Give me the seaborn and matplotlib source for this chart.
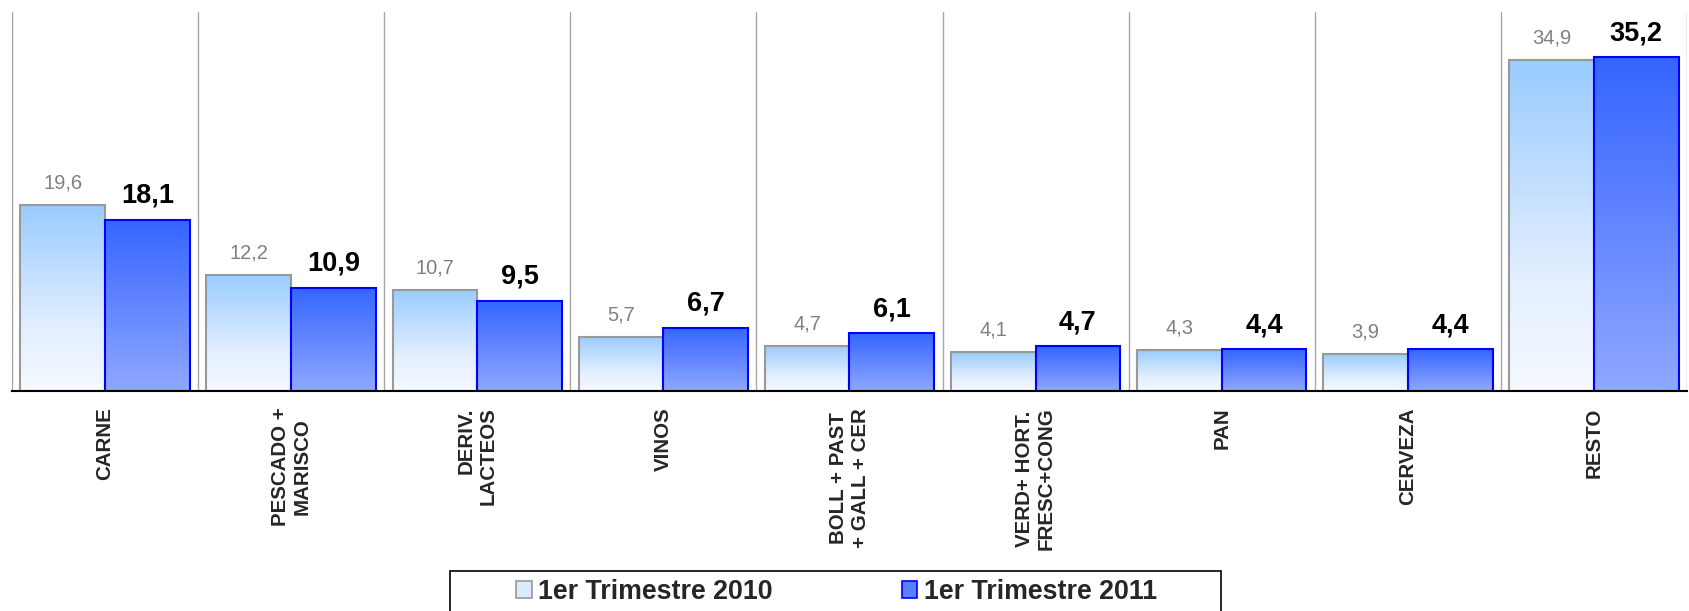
import numpy as np
import pandas as pd
import matplotlib
matplotlib.use("Agg")
import matplotlib.pyplot as plt
from matplotlib.colors import LinearSegmentedColormap
from matplotlib.patches import Patch, Rectangle
import seaborn as sns

# ---- data ----
categories = ["CARNE", "PESCADO +\nMARISCO", "DERIV.\nLACTEOS", "VINOS",
              "BOLL + PAST\n+ GALL + CER", "VERD+ HORT.\nFRESC+CONG",
              "PAN", "CERVEZA", "RESTO"]
series_names = ["1er Trimestre 2010", "1er Trimestre 2011"]
values_2010 = [19.6, 12.2, 10.7, 5.7, 4.7, 4.1, 4.3, 3.9, 34.9]
values_2011 = [18.1, 10.9, 9.5, 6.7, 6.1, 4.7, 4.4, 4.4, 35.2]

df = pd.DataFrame({
    "cat": categories * 2,
    "val": values_2010 + values_2011,
    "serie": [series_names[0]] * len(categories) + [series_names[1]] * len(categories),
})

sns.set_style("white")
plt.rcParams["font.family"] = ["Liberation Sans", "DejaVu Sans"]

W, H = 1690, 611
fig = plt.figure(figsize=(W / 100, H / 100), dpi=100)
ax = fig.add_axes([12 / W, 1 - 391 / H, 1675 / W, 379 / H])

sns.barplot(data=df, x="cat", y="val", hue="serie", order=categories,
            hue_order=series_names, width=0.91, palette=["#99CCFF", "#3366FF"],
            legend=False, ax=ax, saturation=1)

cmaps = [
    LinearSegmentedColormap.from_list("c2010", [(0, "#F6F9FF"), (0.35, "#E2EEFF"), (1, "#99CCFF")]),
    LinearSegmentedColormap.from_list("c2011", [(0, "#8FA8FF"), (0.6, "#5A7FFF"), (1, "#3366FF")]),
]
edges = ["#999999", "#0000FF"]
grad = np.linspace(0, 1, 256).reshape(-1, 1)

for ci, cont in enumerate(ax.containers):
    for p in cont.patches:
        x0, y0 = p.get_x(), p.get_y()
        w, h = p.get_width(), p.get_height()
        im = ax.imshow(grad, extent=[x0, x0 + w, y0, y0 + h], origin="lower",
                       cmap=cmaps[ci], aspect="auto", zorder=1.5, interpolation="bilinear")
        im.set_clip_path(p)
        p.set_facecolor("none")
        p.set_edgecolor(edges[ci])
        p.set_linewidth(1.5)
        p.set_zorder(2)

# value labels
fmt = lambda v: f"{v:.1f}".replace(".", ",")
ax.bar_label(ax.containers[0], labels=[fmt(v) for v in values_2010],
             padding=9, fontsize=14.5, color="#808080")
ax.bar_label(ax.containers[1], labels=[fmt(v) for v in values_2011],
             padding=8, fontsize=19.5, fontweight="bold", color="black")

n = len(categories)
ax.set_xlim(-0.5, n - 0.5)
ax.set_ylim(0, 40)
ax.set_xlabel("")
ax.set_ylabel("")
ax.set_yticks([])

ax.set_xticks(np.arange(-0.5, n, 1), minor=True)
ax.tick_params(axis="x", which="major", length=0, pad=12, labelsize=14.8, rotation=90)
ax.tick_params(axis="x", which="minor", length=6, width=1.2, color="black", direction="out")
for lbl in ax.get_xticklabels():
    lbl.set_fontweight("bold")
    lbl.set_multialignment("center")
    if lbl.get_text().startswith("DERIV"):
        lbl.set_multialignment("right")

ax.grid(False)
ax.grid(True, axis="x", which="minor", color="#A6A6A6", linewidth=1)
ax.set_axisbelow(True)
for s in ["left", "right", "top"]:
    ax.spines[s].set_visible(False)
ax.spines["bottom"].set_color("black")
ax.spines["bottom"].set_linewidth(1.5)

# legend
handles = [
    Patch(facecolor="#DCEBFF", edgecolor="#999999", linewidth=1.2),
    Patch(facecolor="#5A7FFF", edgecolor="#0000FF", linewidth=1.2),
]
fig.legend(handles, series_names, loc="center left",
           bbox_to_anchor=(516 / W, 1 - 592 / H), ncol=2, frameon=False,
           prop={"weight": "bold", "size": 19.3},
           handlelength=0.58, handleheight=0.58, handletextpad=0.25,
           columnspacing=4.8, borderpad=0, borderaxespad=0)
fig.add_artist(Rectangle((450 / W, -0.05), 771 / W, (1 - 571 / H) + 0.05,
                         transform=fig.transFigure, fill=False,
                         edgecolor="black", linewidth=1.2))

fig.savefig("out.png", dpi=100)
